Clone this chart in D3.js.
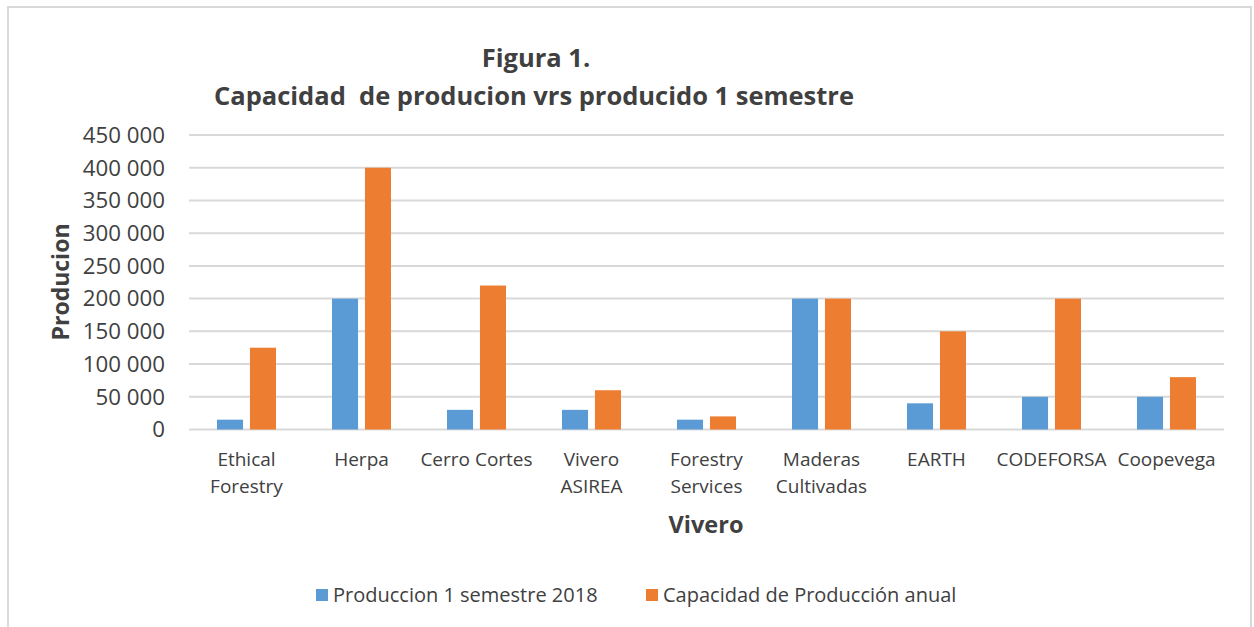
<!DOCTYPE html>
<html>
<head>
<meta charset="utf-8">
<script src="https://cdn.jsdelivr.net/npm/d3@7"></script>
<style>
  body { margin: 0; background: #fff; }
  svg text { font-family: "Open Sans", sans-serif; fill: #404040; }
</style>
</head>
<body>
<div id="grafico"></div>
<script>
// Datos del gráfico
const viveros = ["Ethical Forestry", "Herpa", "Cerro Cortes", "Vivero ASIREA", "Forestry Services",
    "Maderas Cultivadas", "EARTH", "CODEFORSA", "Coopevega"];
const etiquetas = [["Ethical", "Forestry"], ["Herpa"], ["Cerro Cortes"], ["Vivero", "ASIREA"],
    ["Forestry", "Services"], ["Maderas", "Cultivadas"], ["EARTH"], ["CODEFORSA"], ["Coopevega"]];
const produccion = [15000, 200000, 30000, 30000, 15000, 200000, 40000, 50000, 50000];
const capacidad = [125000, 400000, 220000, 60000, 20000, 200000, 150000, 200000, 80000];
const series = ["Produccion 1 semestre 2018", "Capacidad de Producción anual"];
const colores = ["#5b9bd5", "#ed7d31"];
const ticks = [0, 50000, 100000, 150000, 200000, 250000, 300000, 350000, 400000, 450000];

const width = 1254, height = 627;
const margin = { left: 189, right: 30, top: 135, bottom: 197 };

const svg = d3.select("#grafico")
    .append("svg")
    .attr("width", width)
    .attr("height", height);

// Marco exterior
svg.append("rect")
    .attr("x", 8).attr("y", 7)
    .attr("width", 1243).attr("height", 640)
    .attr("fill", "none")
    .attr("stroke", "#d9d9d9")
    .attr("stroke-width", 2);

// Escalas
const x0 = d3.scaleBand()
    .domain(viveros)
    .range([margin.left, width - margin.right])
    .paddingInner(0.487)
    .paddingOuter(0.2435);

const x1 = d3.scaleBand()
    .domain(series)
    .range([0, x0.bandwidth()])
    .paddingInner(0.21);

const y = d3.scaleLinear()
    .domain([0, 450000])
    .range([height - margin.bottom - 0.5, margin.top]);

// Líneas de cuadrícula
svg.append("g")
    .selectAll("line")
    .data(ticks)
    .enter()
    .append("line")
    .attr("x1", margin.left)
    .attr("x2", width - margin.right)
    .attr("y1", d => y(d))
    .attr("y2", d => y(d))
    .attr("stroke", "#d9d9d9")
    .attr("stroke-width", 2);

// Eje Y
const fmt = d => d3.format(",")(d).replace(/,/g, " ");
svg.append("g")
    .selectAll("text")
    .data(ticks)
    .enter()
    .append("text")
    .attr("x", 165)
    .attr("y", d => y(d))
    .attr("dy", "0.35em")
    .attr("text-anchor", "end")
    .style("font-size", "22.3px")
    .text(fmt);

// Barras
const grupos = svg.append("g")
    .selectAll("g")
    .data(viveros.map((v, i) => ({ vivero: v, valores: [produccion[i], capacidad[i]] })))
    .enter()
    .append("g")
    .attr("transform", d => `translate(${x0(d.vivero)},0)`);

grupos.selectAll("rect")
    .data(d => d.valores.map((v, j) => ({ serie: series[j], valor: v, color: colores[j] })))
    .enter()
    .append("rect")
    .attr("x", d => x1(d.serie))
    .attr("y", d => y(d.valor))
    .attr("width", x1.bandwidth())
    .attr("height", d => y(0) - y(d.valor))
    .attr("fill", d => d.color);

// Etiquetas de categorías
const etq = svg.append("g")
    .selectAll("text")
    .data(viveros)
    .enter()
    .append("text")
    .attr("x", d => x0(d) + x0.bandwidth() / 2)
    .attr("y", 466)
    .attr("text-anchor", "middle")
    .style("font-size", "19px");

etq.selectAll("tspan")
    .data((d, i) => etiquetas[i])
    .enter()
    .append("tspan")
    .attr("x", function () { return d3.select(this.parentNode).attr("x"); })
    .attr("dy", (d, i) => i === 0 ? 0 : 27)
    .text(d => d);

// Títulos
svg.append("text")
    .attr("x", 536).attr("y", 67)
    .attr("text-anchor", "middle")
    .style("font-size", "25.5px").style("font-weight", "bold")
    .text("Figura 1.");

svg.append("text")
    .attr("x", 534).attr("y", 105)
    .attr("text-anchor", "middle")
    .style("font-size", "25.5px").style("font-weight", "bold")
    .style("white-space", "pre")
    .text("Capacidad  de producion vrs producido 1 semestre");

svg.append("text")
    .attr("transform", "translate(69,282) rotate(-90)")
    .attr("text-anchor", "middle")
    .style("font-size", "23px").style("font-weight", "bold")
    .text("Producion");

svg.append("text")
    .attr("x", 706).attr("y", 533)
    .attr("text-anchor", "middle")
    .style("font-size", "23.5px").style("font-weight", "bold")
    .text("Vivero");

// Leyenda
const leyX = [316, 646];
const leyenda = svg.append("g")
    .selectAll("g")
    .data(series)
    .enter()
    .append("g")
    .attr("transform", (d, i) => `translate(${leyX[i]},589)`);

leyenda.append("rect")
    .attr("width", 12).attr("height", 12)
    .attr("fill", (d, i) => colores[i]);

leyenda.append("text")
    .attr("x", 17).attr("y", 6)
    .attr("dy", "0.35em")
    .style("font-size", "20px")
    .text(d => d);
</script>
</body>
</html>
